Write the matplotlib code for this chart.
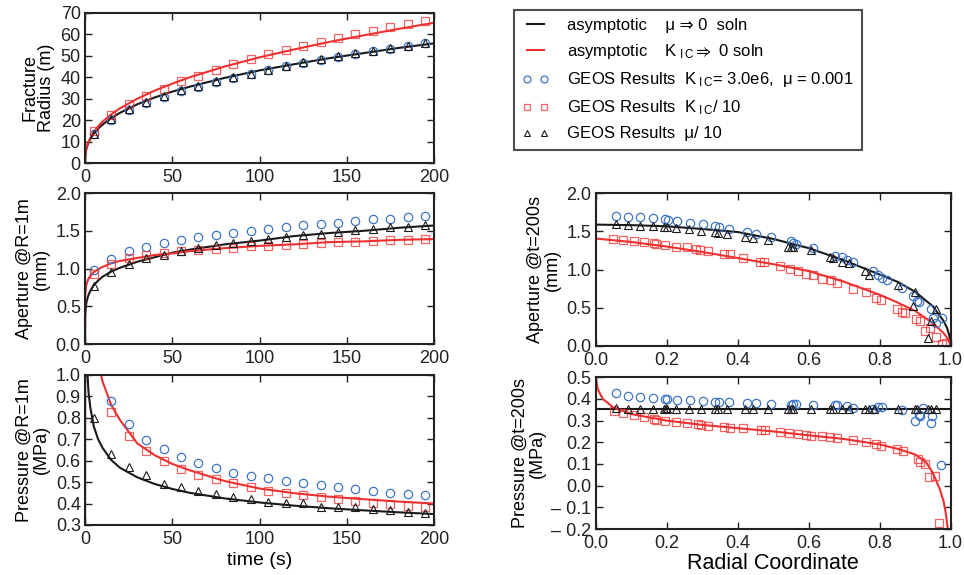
import matplotlib
matplotlib.use("Agg")
import matplotlib.pyplot as plt
import numpy as np

plt.rcParams['font.family'] = ['Liberation Sans', 'DejaVu Sans']
plt.rcParams['mathtext.fontset'] = 'custom'
plt.rcParams['mathtext.rm'] = 'Liberation Sans'
plt.rcParams['mathtext.it'] = 'Liberation Sans'
plt.rcParams['mathtext.fallback'] = 'stixsans'

# ---------------- time-history data ----------------
t_pts = [5, 15, 25, 35, 45, 55, 65, 75, 85, 95, 105, 115, 125, 135, 145, 155, 165, 175, 185, 195]

rad_circ = [13.4, 20.2, 24.9, 28.0, 30.8, 33.6, 35.5, 37.8, 39.7, 41.4, 43.2, 45.1, 46.7, 48.2, 49.5, 51.0, 52.1, 53.4, 54.5, 55.8]
rad_sq = [14.8, 22.2, 27.5, 31.1, 34.7, 38.1, 40.7, 43.5, 46.2, 48.5, 50.9, 52.9, 54.7, 56.5, 58.2, 60.2, 61.6, 63.5, 64.9, 66.3]
rad_tri = [13.7, 20.5, 25.2, 28.3, 31.1, 33.9, 35.8, 38.1, 40.0, 41.7, 43.5, 45.4, 47.0, 48.5, 49.8, 51.3, 52.4, 53.7, 54.7, 56.0]

ap_circ = [0.985, 1.13, 1.236, 1.29, 1.34, 1.38, 1.413, 1.444, 1.47, 1.497, 1.528, 1.55, 1.576, 1.59, 1.607, 1.625, 1.651, 1.66, 1.678, 1.69]
ap_sq = [0.93, 1.06, 1.14, 1.174, 1.20, 1.236, 1.25, 1.263, 1.276, 1.294, 1.302, 1.311, 1.325, 1.338, 1.347, 1.355, 1.364, 1.377, 1.38, 1.395]
ap_tri = [0.77, 0.96, 1.06, 1.14, 1.183, 1.227, 1.27, 1.316, 1.338, 1.369, 1.395, 1.42, 1.448, 1.457, 1.483, 1.51, 1.528, 1.546, 1.554, 1.572]

pr_t_circ = [15, 25, 35, 45, 55, 65, 75, 85, 95, 105, 115, 125, 135, 145, 155, 165, 175, 185, 195]
pr_circ = [0.876, 0.771, 0.697, 0.653, 0.616, 0.588, 0.564, 0.544, 0.529, 0.518, 0.507, 0.498, 0.485, 0.476, 0.468, 0.460, 0.451, 0.446, 0.440]
pr_sq = [0.829, 0.715, 0.647, 0.599, 0.563, 0.533, 0.513, 0.494, 0.476, 0.460, 0.451, 0.438, 0.429, 0.420, 0.412, 0.404, 0.398, 0.390, 0.384]
pr_tri = [0.798, 0.631, 0.569, 0.533, 0.491, 0.479, 0.460, 0.445, 0.432, 0.423, 0.409, 0.404, 0.401, 0.382, 0.386, 0.386, 0.376, 0.370, 0.362, 0.354]

# asymptotic curves
t_curve = [0, 0.1, 0.5, 1, 2, 3, 5, 7.5, 10, 15, 20, 30, 40, 50, 60, 80, 100, 120, 140, 160, 180, 200]
rad_visc = [0, 3.0, 5.6, 7.3, 9.6, 11.2, 13.7, 16.0, 17.9, 21.0, 23.4, 27.4, 30.6, 33.3, 35.6, 39.7, 43.2, 46.1, 48.9, 51.3, 53.7, 55.8]
rad_tough = [0, 2.9, 5.6, 7.5, 9.9, 11.6, 14.5, 17.1, 19.3, 22.7, 25.5, 30.0, 33.8, 37.0, 40.0, 45.0, 49.3, 53.0, 56.5, 59.6, 62.6, 65.4]
ap_visc = [0, 0.37, 0.50, 0.574, 0.65, 0.70, 0.78, 0.84, 0.89, 0.96, 1.01, 1.09, 1.15, 1.21, 1.25, 1.32, 1.37, 1.43, 1.47, 1.50, 1.54, 1.57]
ap_tough = [0, 0.635, 0.75, 0.805, 0.866, 0.90, 0.95, 0.99, 1.02, 1.07, 1.10, 1.14, 1.18, 1.20, 1.23, 1.27, 1.30, 1.32, 1.35, 1.36, 1.38, 1.39]
pr_visc = [0, 2.0, 1.23, 1.06, 0.92, 0.85, 0.76, 0.70, 0.66, 0.603, 0.567, 0.522, 0.491, 0.468, 0.450, 0.424, 0.405, 0.390, 0.378, 0.368, 0.359, 0.351]
pr_tough = [0, 4.0, 2.6, 1.92, 1.56, 1.38, 1.19, 1.06, 0.97, 0.86, 0.79, 0.68, 0.625, 0.585, 0.555, 0.505, 0.470, 0.448, 0.432, 0.420, 0.409, 0.400]

# ---------------- profile data at t = 200 s ----------------
xc_ap = [0.058, 0.091, 0.126, 0.162, 0.195, 0.204, 0.230, 0.267, 0.301, 0.336, 0.348, 0.376, 0.427, 0.451, 0.494, 0.551, 0.556, 0.564, 0.613, 0.674, 0.693, 0.707, 0.726, 0.782, 0.796, 0.808, 0.821, 0.862, 0.895, 0.906, 0.912, 0.944, 0.951, 0.960, 0.975]
yc_ap = [1.70, 1.69, 1.68, 1.67, 1.66, 1.65, 1.63, 1.61, 1.60, 1.57, 1.56, 1.53, 1.49, 1.47, 1.43, 1.37, 1.35, 1.33, 1.28, 1.18, 1.16, 1.13, 1.10, 0.98, 0.93, 0.89, 0.86, 0.76, 0.65, 0.59, 0.57, 0.48, 0.36, 0.30, 0.36]
xt_ap = [0.056, 0.091, 0.124, 0.160, 0.193, 0.201, 0.227, 0.262, 0.296, 0.336, 0.345, 0.370, 0.422, 0.444, 0.485, 0.543, 0.551, 0.556, 0.607, 0.660, 0.669, 0.693, 0.713, 0.760, 0.770, 0.852, 0.899, 0.895, 0.937, 0.945, 0.960]
yt_ap = [1.59, 1.58, 1.57, 1.57, 1.55, 1.55, 1.54, 1.53, 1.51, 1.49, 1.48, 1.47, 1.42, 1.41, 1.38, 1.30, 1.29, 1.29, 1.25, 1.17, 1.15, 1.10, 1.09, 0.98, 0.93, 0.80, 0.70, 0.52, 0.11, 0.33, 0.48]
xs_ap = [0.049, 0.077, 0.107, 0.136, 0.164, 0.171, 0.195, 0.226, 0.256, 0.282, 0.293, 0.317, 0.361, 0.378, 0.415, 0.462, 0.474, 0.519, 0.547, 0.571, 0.594, 0.613, 0.639, 0.662, 0.680, 0.726, 0.763, 0.789, 0.805, 0.848, 0.862, 0.871, 0.904, 0.914, 0.928, 0.942, 0.960, 0.975, 0.987]
ys_ap = [1.40, 1.38, 1.37, 1.36, 1.35, 1.34, 1.32, 1.30, 1.29, 1.27, 1.26, 1.24, 1.20, 1.20, 1.15, 1.10, 1.10, 1.04, 1.01, 0.98, 0.94, 0.93, 0.88, 0.86, 0.83, 0.74, 0.70, 0.63, 0.60, 0.48, 0.44, 0.43, 0.35, 0.33, 0.20, 0.24, 0.12, 0.02, 0.04]

xc_pr = [0.058, 0.091, 0.126, 0.160, 0.195, 0.201, 0.230, 0.267, 0.301, 0.336, 0.348, 0.376, 0.427, 0.451, 0.494, 0.551, 0.556, 0.564, 0.613, 0.674, 0.679, 0.707, 0.726, 0.782, 0.796, 0.808, 0.862, 0.899, 0.912, 0.915, 0.923, 0.944, 0.949, 0.972]
yc_pr = [0.427, 0.414, 0.408, 0.404, 0.399, 0.399, 0.394, 0.393, 0.390, 0.387, 0.387, 0.384, 0.381, 0.381, 0.376, 0.373, 0.376, 0.376, 0.372, 0.370, 0.370, 0.365, 0.358, 0.355, 0.361, 0.361, 0.347, 0.297, 0.327, 0.320, 0.358, 0.289, 0.320, 0.093]
xt_pr = [0.056, 0.091, 0.124, 0.160, 0.193, 0.197, 0.201, 0.227, 0.262, 0.296, 0.336, 0.345, 0.370, 0.422, 0.444, 0.485, 0.543, 0.551, 0.556, 0.607, 0.660, 0.669, 0.693, 0.713, 0.760, 0.770, 0.785, 0.852, 0.899, 0.905, 0.937, 0.945, 0.960]
yt_pr = [0.356, 0.355, 0.355, 0.355, 0.355, 0.356, 0.355, 0.355, 0.355, 0.355, 0.355, 0.354, 0.355, 0.355, 0.354, 0.355, 0.354, 0.355, 0.354, 0.355, 0.354, 0.355, 0.354, 0.355, 0.354, 0.354, 0.355, 0.354, 0.354, 0.353, 0.353, 0.352, 0.352]
xs_pr = [0.052, 0.077, 0.107, 0.136, 0.164, 0.171, 0.195, 0.226, 0.256, 0.289, 0.296, 0.317, 0.361, 0.378, 0.415, 0.467, 0.477, 0.519, 0.545, 0.569, 0.594, 0.608, 0.639, 0.660, 0.680, 0.726, 0.763, 0.789, 0.805, 0.848, 0.867, 0.909, 0.914, 0.928, 0.940, 0.956, 0.967]
ys_pr = [0.343, 0.335, 0.327, 0.317, 0.309, 0.304, 0.300, 0.295, 0.289, 0.283, 0.280, 0.274, 0.271, 0.266, 0.266, 0.255, 0.255, 0.248, 0.243, 0.240, 0.235, 0.231, 0.228, 0.223, 0.220, 0.209, 0.200, 0.193, 0.185, 0.170, 0.159, 0.124, 0.109, 0.098, 0.041, 0.044, -0.174]

r_curve = [0.0, 0.1, 0.2, 0.3, 0.4, 0.5, 0.6, 0.7, 0.8, 0.85, 0.9, 0.95, 0.98, 0.99, 0.997, 1.0]
ap_r_visc = [1.587, 1.58, 1.565, 1.53, 1.49, 1.40, 1.28, 1.12, 0.935, 0.84, 0.71, 0.52, 0.33, 0.24, 0.13, 0.0]
ap_r_tough = [1.405, 1.36, 1.30, 1.23, 1.15, 1.07, 0.98, 0.84, 0.67, 0.57, 0.46, 0.30, 0.17, 0.11, 0.05, 0.0]
r_pc = [0.0, 0.005, 0.01, 0.02, 0.05, 0.1, 0.2, 0.3, 0.4, 0.5, 0.6, 0.7, 0.8, 0.85, 0.9, 0.93, 0.95, 0.97, 0.98, 0.985, 0.989, 0.993]
pr_r_tough = [0.50, 0.45, 0.43, 0.40, 0.36, 0.33, 0.30, 0.28, 0.265, 0.25, 0.232, 0.215, 0.19, 0.17, 0.144, 0.11, 0.06, -0.017, -0.07, -0.11, -0.154, -0.21]
r_pv = [0.0, 1.0]
pr_r_visc = [0.352, 0.352]

BLUE = '#3f74c6'
RED = '#ee3030'
BLACK = '#1a1a1a'
FS = 13

fig = plt.figure(figsize=(9.64, 5.75), dpi=100)

def style(ax):
    for s in ax.spines.values():
        s.set_linewidth(1.5)
        s.set_color('#222222')
    ax.tick_params(direction='in', top=True, right=True, length=5, width=1,
                   labelsize=FS, colors='#222222')
    ax.tick_params(axis='x', pad=4)
    ax.tick_params(axis='y', pad=3)

def markers(ax, xc, yc, xs, ys, xt, yt):
    ax.plot(xc, yc, 'o', ls='none', mfc='none', mec=BLUE, ms=6, mew=0.9)
    ax.plot(xs, ys, 's', ls='none', mfc='none', mec=RED, ms=6, mew=0.9, alpha=0.75)
    ax.plot(xt, yt, '^', ls='none', mfc='none', mec=BLACK, ms=5.5, mew=0.8)

fmt1 = matplotlib.ticker.FormatStrFormatter('%.1f')
lw = 1.5
# Fracture radius
ax1 = fig.add_axes([0.0882, 0.7165, 0.362, 0.261])
ax1.plot(t_curve, rad_visc, color=BLACK, lw=lw)
ax1.plot(t_curve, rad_tough, color=RED, lw=lw)
markers(ax1, t_pts, rad_circ, t_pts, rad_sq, t_pts, rad_tri)
ax1.set_xlim(0, 200); ax1.set_ylim(0, 70)
ax1.set_xticks([0, 50, 100, 150, 200]); ax1.set_yticks(range(0, 71, 10))
ax1.set_ylabel('Fracture\nRadius (m)', fontsize=FS, labelpad=4, linespacing=1.0)
style(ax1)

# Aperture at R=1m
ax2 = fig.add_axes([0.0882, 0.4017, 0.362, 0.2626])
ax2.plot(t_curve, ap_visc, color=BLACK, lw=lw)
ax2.plot(t_curve, ap_tough, color=RED, lw=lw)
markers(ax2, t_pts, ap_circ, t_pts, ap_sq, t_pts, ap_tri)
ax2.set_xlim(0, 200); ax2.set_ylim(0, 2.0)
ax2.set_xticks([0, 50, 100, 150, 200]); ax2.set_yticks(np.arange(0, 2.01, 0.5))
ax2.yaxis.set_major_formatter(fmt1)
ax2.set_ylabel('Aperture @R=1m\n(mm)', fontsize=FS, labelpad=4, linespacing=1.0)
style(ax2)

# Pressure at R=1m
ax3 = fig.add_axes([0.0882, 0.087, 0.362, 0.261])
ax3.plot(t_curve, pr_visc, color=BLACK, lw=lw)
ax3.plot(t_curve, pr_tough, color=RED, lw=lw)
markers(ax3, pr_t_circ, pr_circ, pr_t_circ, pr_sq, t_pts, pr_tri)
ax3.set_xlim(0, 200); ax3.set_ylim(0.3, 1.0)
ax3.set_xticks([0, 50, 100, 150, 200]); ax3.set_yticks(np.arange(0.3, 1.01, 0.1))
ax3.yaxis.set_major_formatter(fmt1)
ax3.set_ylabel('Pressure @R=1m\n(MPa)', fontsize=FS, labelpad=4, linespacing=1.0)
ax3.set_xlabel('time (s)', fontsize=14, labelpad=3)
style(ax3)

# Aperture at t=200s
ax4 = fig.add_axes([0.618, 0.3983, 0.368, 0.266])
ax4.plot(r_curve, ap_r_visc, color=BLACK, lw=lw)
ax4.plot(r_curve, ap_r_tough, color=RED, lw=lw)
markers(ax4, xc_ap, yc_ap, xs_ap, ys_ap, xt_ap, yt_ap)
ax4.set_xlim(0, 1); ax4.set_ylim(0, 2.0)
ax4.set_xticks(np.arange(0, 1.01, 0.2)); ax4.set_yticks(np.arange(0, 2.01, 0.5))
ax4.xaxis.set_major_formatter(fmt1)
ax4.yaxis.set_major_formatter(fmt1)
ax4.set_ylabel('Aperture @t=200s\n(mm)', fontsize=FS, labelpad=4, linespacing=1.0)
style(ax4)

# Pressure at t=200s
ax5 = fig.add_axes([0.618, 0.080, 0.368, 0.264])
ax5.plot(r_pv, pr_r_visc, color=BLACK, lw=lw)
ax5.plot(r_pc, pr_r_tough, color=RED, lw=lw)
markers(ax5, xc_pr, yc_pr, xs_pr, ys_pr, xt_pr, yt_pr)
ax5.set_xlim(0, 1); ax5.set_ylim(-0.2, 0.5)
ax5.set_xticks(np.arange(0, 1.01, 0.2))
pticks = [-0.2, -0.1, 0.0, 0.1, 0.2, 0.3, 0.4, 0.5]
ax5.set_yticks(pticks)
ax5.set_yticklabels([('\u2013 %.1f' % abs(v)) if v < 0 else '%.1f' % v for v in pticks])
ax5.xaxis.set_major_formatter(fmt1)
ax5.set_ylabel('Pressure @t=200s\n(MPa)', fontsize=FS, labelpad=4, linespacing=1.0)
ax5.set_xlabel('Radial Coordinate', fontsize=15.5, labelpad=1)
style(ax5)

# Legend
from matplotlib.lines import Line2D
handles = [
    Line2D([], [], color=BLACK, lw=lw),
    Line2D([], [], color=RED, lw=lw),
    Line2D([], [], marker='o', ls='none', mfc='none', mec=BLUE, ms=5, mew=0.9),
    Line2D([], [], marker='s', ls='none', mfc='none', mec=RED, ms=5, mew=0.9, alpha=0.75),
    Line2D([], [], marker='^', ls='none', mfc='none', mec=BLACK, ms=4.5, mew=0.8),
]
labels = [
    'asymptotic    \u03bc \u21d2 0  soln',
    'asymptotic    K$_{\\rm\\ I\\, C}$$\\Rightarrow$ 0 soln',
    'GEOS Results  K$_{\\rm\\ I\\, C}$= 3.0e6,  \u03bc = 0.001',
    'GEOS Results  K$_{\\rm\\ I\\, C}$/ 10',
    'GEOS Results  \u03bc/ 10',
]
leg = fig.legend(handles, labels, loc='upper left', bbox_to_anchor=(0.533, 0.983),
                 numpoints=2, fontsize=12, frameon=True, fancybox=False,
                 edgecolor='#222222', handlelength=1.6, handletextpad=1.1,
                 labelspacing=0.55, borderpad=0.5, borderaxespad=0)
leg.get_frame().set_linewidth(1.5)

fig.savefig('out.png', dpi=100)
